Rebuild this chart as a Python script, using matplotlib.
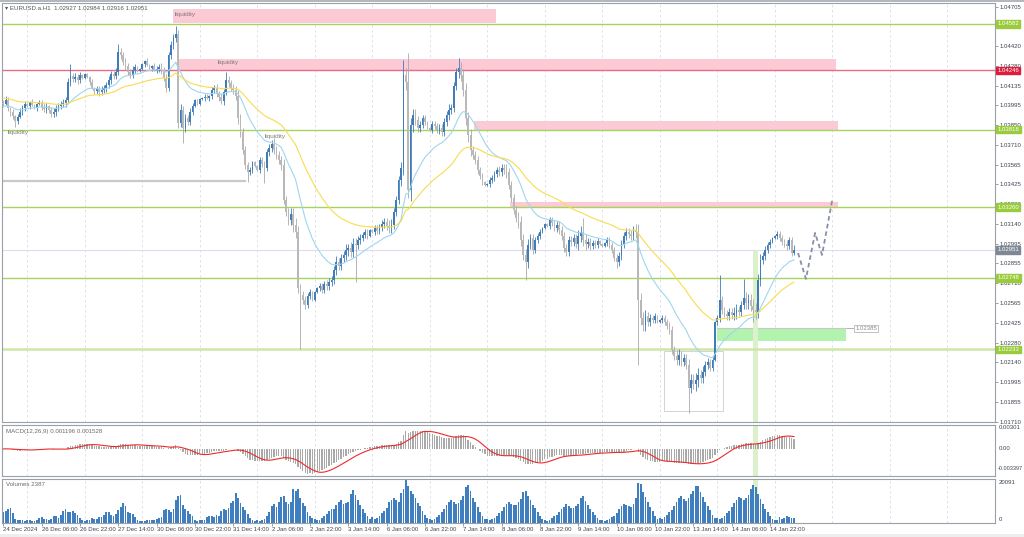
import numpy as np
import matplotlib
matplotlib.use("Agg")
import matplotlib.pyplot as plt
from matplotlib.patches import Rectangle
from matplotlib.transforms import blended_transform_factory as blend

plt.rcParams['font.family'] = ['Liberation Sans', 'DejaVu Sans']

# ---------------- data (EURUSD H1) ----------------
first_open = 1.04010
close = [
 1.04004, 1.04033, 1.03975, 1.03946, 1.03917, 1.03881, 1.03910, 1.03946, 1.03975, 1.04004,
 1.03990, 1.04019, 1.03997, 1.03975, 1.04004, 1.04011, 1.03982, 1.03968, 1.03990, 1.03961, 1.03932, 1.03946,
 1.03975, 1.03990, 1.04004, 1.04011, 1.04033, 1.04163, 1.04206, 1.04185, 1.04199, 1.04177, 1.04213, 1.04192,
 1.04221, 1.04199, 1.04163, 1.04120, 1.04098, 1.04112, 1.04091, 1.04105, 1.04120, 1.04141, 1.04177, 1.04221,
 1.04206, 1.04235, 1.04380, 1.04358, 1.04307, 1.04278, 1.04235, 1.04213, 1.04250, 1.04271, 1.04242, 1.04257,
 1.04293, 1.04315, 1.04286, 1.04264, 1.04278, 1.04250, 1.04257, 1.04271, 1.04250, 1.04192, 1.04120, 1.04358,
 1.04430, 1.04481, 1.04510, 1.03867, 1.03961, 1.03831, 1.03903, 1.03874, 1.03946, 1.03990, 1.04033, 1.04004,
 1.04040, 1.04047, 1.04055, 1.04047, 1.04062, 1.04105, 1.04120, 1.04076, 1.04055, 1.04026, 1.04091, 1.04177,
 1.04156, 1.04120, 1.04105, 1.04062, 1.03903, 1.03802, 1.03672, 1.03564, 1.03513, 1.03528, 1.03585, 1.03556,
 1.03528, 1.03600, 1.03571, 1.03542, 1.03658, 1.03686, 1.03715, 1.03672, 1.03636, 1.03600, 1.03564, 1.03311,
 1.03224, 1.03167, 1.03210, 1.03130, 1.03080, 1.02676, 1.02625, 1.02589, 1.02553, 1.02618, 1.02647, 1.02589,
 1.02647, 1.02676, 1.02690, 1.02661, 1.02705, 1.02690, 1.02719, 1.02733, 1.02806, 1.02863, 1.02834, 1.02892,
 1.02914, 1.02950, 1.02964, 1.02936, 1.02993, 1.02986, 1.03022, 1.03037, 1.03058, 1.03080, 1.03051, 1.03094,
 1.03080, 1.03109, 1.03087, 1.03116, 1.03138, 1.03152, 1.03123, 1.03109, 1.03130, 1.03224, 1.03311, 1.03455,
 1.03542, 1.04213, 1.04163, 1.03383, 1.03852, 1.03925, 1.03889, 1.03831, 1.03852, 1.03903, 1.03874, 1.03831,
 1.03816, 1.03860, 1.03845, 1.03816, 1.03831, 1.03802, 1.03874, 1.03925, 1.03961, 1.03975, 1.04134, 1.04235,
 1.04264, 1.04213, 1.04105, 1.03903, 1.03780, 1.03672, 1.03636, 1.03600, 1.03528, 1.03484, 1.03441, 1.03419,
 1.03427, 1.03455, 1.03470, 1.03499, 1.03528, 1.03513, 1.03542, 1.03528, 1.03513, 1.03419, 1.03325, 1.03239,
 1.03181, 1.03152, 1.03022, 1.02914, 1.02863, 1.02986, 1.03037, 1.02950, 1.03022, 1.03051, 1.03080, 1.03109,
 1.03138, 1.03123, 1.03167, 1.03145, 1.03109, 1.03130, 1.03094, 1.03051, 1.02964, 1.02936, 1.03022, 1.03008,
 1.03037, 1.02993, 1.03051, 1.03080, 1.03022, 1.02993, 1.03008, 1.02979, 1.03001, 1.02986, 1.03015, 1.02993,
 1.02979, 1.03001, 1.03022, 1.02986, 1.02950, 1.02892, 1.02863, 1.02907, 1.02993, 1.03051, 1.03080, 1.03065,
 1.03051, 1.03094, 1.03080, 1.02589, 1.02459, 1.02408, 1.02473, 1.02430, 1.02459, 1.02445, 1.02473, 1.02430,
 1.02445, 1.02459, 1.02430, 1.02401, 1.02372, 1.02228, 1.02185, 1.02156, 1.02192, 1.02141, 1.02170, 1.02120,
 1.01954, 1.02011, 1.01983, 1.02011, 1.02047, 1.02026, 1.02069, 1.02120, 1.02141, 1.02098, 1.02156, 1.02430,
 1.02459, 1.02589, 1.02517, 1.02488, 1.02473, 1.02502, 1.02481, 1.02495, 1.02517, 1.02502, 1.02553, 1.02603,
 1.02567, 1.02589, 1.02546, 1.02517, 1.02502, 1.02733, 1.02878, 1.02907, 1.02950, 1.02986, 1.03008, 1.03037,
 1.03051, 1.03065, 1.03037, 1.03008, 1.02993, 1.02979, 1.03022, 1.02927, 1.02951,
]
upper_wick_pips = [
 2,3,2,1,2,1,2,3,2,2,
 1,1,2,1,1,2,2,3,2,1,2,3,2,2,2,3,2,3,9,2,3,2,2,1,
 1,1,1,2,1,2,2,3,2,2,3,2,2,3,6,3,2,3,2,2,3,2,1,1,
 1,1,2,1,1,2,2,2,3,2,3,2,3,3,6,3,4,3,3,2,3,2,1,1,
 1,1,2,2,1,2,2,3,2,3,2,6,3,2,3,3,4,3,3,3,2,2,1,1,
 1,2,2,2,2,3,3,4,3,3,3,4,3,3,4,4,5,4,3,3,3,2,2,1,
 1,1,2,2,2,3,3,3,3,4,3,3,3,4,3,4,4,4,3,3,2,2,2,1,
 1,2,2,2,3,3,3,4,4,3,3,3,4,11,5,21,5,4,4,3,3,2,2,1,
 1,2,2,2,3,3,3,3,4,3,3,3,7,4,4,5,4,4,3,3,3,2,2,1,
 1,2,2,2,2,3,3,3,4,3,3,3,3,4,4,4,4,4,3,3,2,2,2,1,
 1,1,2,2,2,3,3,3,3,3,3,3,3,3,4,4,10,4,3,3,2,2,2,1,
 1,1,2,2,2,2,3,3,3,3,3,3,3,3,4,6,5,4,4,3,3,2,2,1,
 1,2,2,2,3,3,3,4,4,3,3,3,4,4,4,5,5,4,4,3,3,2,2,1,
 2,18,3,2,3,3,3,4,4,3,3,14,4,4,4,5,5,4,4,3,3,2,2,1,
 1,2,2,2,2,3,2,2,3.3,
]
lower_wick_pips = [
 2,1,2,3,2,4,2,1,2,2,
 1,2,1,1,2,1,2,2,3,2,2,2,3,2,2,2,3,2,3,2,2,3,2,1,
 1,1,2,1,2,2,3,2,2,3,2,3,2,2,2,3,2,3,2,2,2,2,1,1,
 1,2,1,1,2,1,2,2,3,2,3,2,3,3,3,4,3,11,3,2,2,2,1,1,
 1,1,2,1,2,2,2,2,3,2,3,2,3,2,3,3,4,4,3,3,7,2,2,1,
 1,2,2,11,2,3,3,3,3,3,4,3,3,4,4,5,4,4,39,3,3,2,2,1,
 1,1,2,2,2,3,3,3,3,4,3,3,3,4,4,4,4,27,3,3,2,2,2,1,
 1,2,2,2,3,3,3,4,4,3,3,3,4,5,6,6,8,5,4,3,3,2,2,1,
 1,2,2,2,3,3,3,3,4,3,3,3,4,4,4,5,5,4,3,3,3,2,2,1,
 1,2,2,2,2,3,3,3,4,3,3,3,3,4,4,4,13,4,3,3,2,2,2,1,
 1,1,2,2,2,3,3,3,3,3,3,3,3,3,4,4,4,4,3,3,2,2,2,1,
 1,1,2,2,2,2,4,3,3,3,3,3,3,3,4,47,5,4,4,3,3,2,2,1,
 1,2,2,2,3,3,3,4,4,3,3,3,18,4,4,5,5,4,4,3,3,2,2,1,
 2,3,3,2,3,3,3,4,4,3,3,3,4,4,4,9,5,4,4,3,3,2,2,1,
 1,2,2,2,2,3,2,2,1.1,
]
volume = [
 5000, 5500, 6500, 6800, 4500, 2000, 1200, 1500, 1300, 900,
 1200, 1500, 900, 1000, 1300, 2200, 2600, 2000, 1800, 1500, 2000, 3200, 3000, 2400, 3800, 5600, 6500, 5200, 4800, 5600, 4600, 3500, 2400, 1500,
 800, 1200, 1500, 2200, 1800, 1700, 2600, 2800, 3500, 4800, 5200, 3600, 3400, 4200, 5800, 7400, 9000, 7600, 5200, 4400, 3900, 2800, 1400, 900,
 700, 1100, 1500, 1300, 1400, 1200, 1900, 2200, 2600, 6000, 6200, 6000, 5200, 6400, 10500, 12500, 12800, 8400, 6200, 5600, 4200, 3400, 1500, 1000,
 1200, 1500, 1300, 2600, 3000, 3200, 2700, 3500, 3300, 5400, 6200, 6100, 6800, 9200, 10200, 13500, 11400, 9000, 7400, 5800, 4200, 2400, 1300, 900,
 1500, 1100, 1400, 2000, 3300, 4800, 7800, 8600, 7400, 9600, 11800, 12300, 9400, 8800, 9500, 15300, 14800, 15500, 11400, 9200, 7600, 5200, 3400, 2200,
 1800, 1400, 1500, 2200, 3000, 4200, 5600, 6400, 6200, 8400, 9600, 10400, 8600, 9200, 9600, 13400, 15200, 12600, 10400, 8000, 6400, 4600, 3200, 1600,
 2600, 1800, 2400, 3200, 4600, 5600, 6800, 9800, 10400, 11200, 10600, 9800, 13600, 15600, 20091, 16800, 14400, 13200, 11600, 9200, 7600, 5400, 3800, 2200,
 1600, 1400, 2000, 2600, 3600, 4800, 6400, 8200, 9400, 10600, 9800, 8600, 9200, 10400, 12200, 16400, 17200, 14400, 11600, 9400, 7200, 5200, 3200, 1800,
 1600, 1200, 1800, 2400, 3400, 4600, 5400, 7400, 8600, 9800, 8800, 8000, 8400, 9600, 11000, 14200, 14800, 12400, 10400, 8400, 6800, 5200, 3000, 1600,
 1200, 1000, 1400, 2200, 3000, 3800, 4800, 6400, 7400, 8600, 7800, 7000, 6800, 7600, 8800, 11600, 12400, 10000, 8000, 6400, 5200, 3600, 2400, 1400,
 1200, 1000, 1400, 2000, 2800, 3400, 4600, 6600, 7800, 8800, 8200, 7600, 7400, 8600, 11400, 18400, 17600, 14000, 12000, 9600, 7400, 5400, 3400, 2000,
 2400, 2000, 2800, 3600, 4800, 6000, 7600, 9400, 11200, 12400, 11000, 10200, 11400, 13200, 14800, 16800, 17000, 14000, 11800, 9800, 7600, 5800, 3600, 2200,
 2200, 1800, 2400, 3200, 4400, 5600, 7200, 9000, 10400, 12000, 11400, 10400, 11600, 12800, 15400, 17400, 16600, 13400, 11000, 8800, 6600, 4800, 3000, 1800,
 1400, 1200, 2800, 1800, 2200, 3400, 2800, 2400, 2387,
]
date_labels = ["24 Dec 2024", "26 Dec 06:00", "26 Dec 22:00", "27 Dec 14:00", "30 Dec 06:00",
               "30 Dec 22:00", "31 Dec 14:00", "2 Jan 06:00", "2 Jan 22:00", "3 Jan 14:00",
               "6 Jan 06:00", "6 Jan 22:00", "7 Jan 14:00", "8 Jan 06:00", "8 Jan 22:00",
               "9 Jan 14:00", "10 Jan 06:00", "10 Jan 22:00", "13 Jan 14:00", "14 Jan 06:00",
               "14 Jan 22:00"]
day_start_bars = [10, 34, 58, 82, 106, 130, 154, 178, 202, 226, 250, 274, 298, 322, 346, 370, 394]
price_ticks = [1.04705, 1.04563, 1.04420, 1.04280, 1.04135, 1.03995, 1.03850, 1.03710, 1.03565,
               1.03425, 1.03280, 1.03140, 1.02995, 1.02855, 1.02710, 1.02565, 1.02425, 1.02280,
               1.02140, 1.01995, 1.01855, 1.01710]
green_levels = [1.04582, 1.03818, 1.03260, 1.02748, 1.02233]
red_level = 1.04246
bid_price = 1.02951
old_level = 1.03448            # grey segment on the left
old_level_end_bar = 101
# liquidity zones: (bar_from, bar_to, price_low, price_high)
pink_zones = [(70.8, 205.6, 1.04589, 1.04690), (72.9, 347.5, 1.04250, 1.04329),
              (196.4, 348.4, 1.03817, 1.03881), (211.5, 348.4, 1.03253, 1.03297)]
green_zone = (297.9, 351.7, 1.02293, 1.02385)
grey_box = (275.8, 300.4, 1.01788, 1.02221)
band_bars = (312.9, 315.0)
band_top = 1.0295
liq_texts = [(71.6, 1.04647), (89.6, 1.04300), (2.0, 1.03800), (109.2, 1.03772)]
proj_bars = [331.7, 335.0, 338.8, 341.7, 345.9]
proj_prices = [1.02928, 1.02741, 1.03073, 1.02914, 1.03304]
macd_hi, macd_lo = 0.00301, -0.003397
vol_max = 20091

# ---------------- derived series ----------------
c = np.array(close)
n = len(c)
x = np.arange(n)
o = np.concatenate([[first_open], c[:-1]])
hi = np.maximum(o, c) + np.array(upper_wick_pips) * 1e-4
lo = np.minimum(o, c) - np.array(lower_wick_pips) * 1e-4
vol = np.array(volume, dtype=float)

def ema(v, period, seed):
    a = 2.0 / (period + 1)
    out = np.empty(len(v)); p = seed
    for i, val in enumerate(v):
        p = p + a * (val - p); out[i] = p
    return out

ma_fast = ema(c, 20, 1.03983)
ma_slow = ema(c, 50, 1.04047)
macd = ema(c, 12, 1.0400) - ema(c, 26, 1.0400)
sig = np.convolve(macd, np.ones(9) / 9, mode='full')[:n]
sig[:8] = [macd[:i + 1].mean() for i in range(8)]

# ---------------- figure ----------------
W, H = 1024, 537
fig = plt.figure(figsize=(W / 100, H / 100), dpi=100)
fig.patch.set_facecolor('white')

def box(x0, y0, x1, y1):
    return [x0 / W, 1 - y1 / H, (x1 - x0) / W, (y1 - y0) / H]

ax = fig.add_axes(box(2, 3, 995, 422))
axm = fig.add_axes(box(2, 425, 995, 476), sharex=ax)
axv = fig.add_axes(box(2, 479, 995, 523), sharex=ax)

XL = (-0.54, 413.9)
ax.set_xlim(*XL)
ax.set_ylim(1.01708, 1.04733)
axm.set_ylim(macd_lo, macd_hi)
axv.set_ylim(0, vol_max)

spine_c = '#9aa0a8'
for a in (ax, axm, axv):
    for s in a.spines.values():
        s.set_color(spine_c); s.set_linewidth(0.8)
    a.tick_params(axis='x', bottom=False, labelbottom=False)
    for b in day_start_bars:
        a.axvline(b, color='#d9dce8', lw=0.6, ls=(0, (3, 3)), zorder=0)
    a.set_facecolor('white')

# right price axis
ax.yaxis.tick_right()
ax.set_yticks(price_ticks)
ax.set_yticklabels([f"{p:.5f}" for p in price_ticks])
ax.tick_params(axis='y', length=2, width=0.5, color='#777777', labelsize=4.3,
               pad=1.5, labelcolor='#3c4450')
for a in (axm, axv):
    a.set_yticks([])

# zones
for (b0, b1, p0, p1) in pink_zones:
    ax.add_patch(Rectangle((b0, p0), b1 - b0, p1 - p0, facecolor='#fccad4',
                           edgecolor='none', zorder=1))
g0, g1, gp0, gp1 = green_zone
ax.add_patch(Rectangle((g0, gp0), g1 - g0, gp1 - gp0, facecolor='#b2f3ae',
                       edgecolor='none', zorder=1))
ax.plot([g0, g1], [gp1, gp1], color='#c8c8c8', lw=0.8, zorder=1)
gb0, gb1, gbp0, gbp1 = grey_box
ax.add_patch(Rectangle((gb0, gbp0), gb1 - gb0, gbp1 - gbp0, facecolor='none',
                       edgecolor='#d4d4d4', lw=0.7, zorder=1))
ylo = ax.get_ylim()[0]
ax.add_patch(Rectangle((band_bars[0], ylo), band_bars[1] - band_bars[0], band_top - ylo,
                       facecolor='#dcf0cc', edgecolor='none', zorder=1))
for a in (axm, axv):
    a.axvspan(band_bars[0], band_bars[1], color='#dcf0cc', lw=0, zorder=0.5)

# levels
ax.axhline(bid_price, color='#dedcf2', lw=0.8, zorder=1)
for p in green_levels[:-1]:
    ax.axhline(p, color='#a6d25e', lw=1.0, zorder=1.5)
ax.axhline(green_levels[-1], color='#cfe6a6', lw=1.8, zorder=1.5)
ax.axhline(red_level, color='#e76c86', lw=1.0, zorder=1.5)
ax.plot([XL[0], old_level_end_bar], [old_level, old_level], color='#c9c9c9', lw=1.6, zorder=1.5)

# candles
bull = c >= o
body_h = np.where(np.abs(c - o) < 1e-5, 1.2e-5, c - o)
ax.vlines(x[bull], lo[bull], hi[bull], color='#3f7cb8', lw=0.6, zorder=3)
ax.vlines(x[~bull], lo[~bull], hi[~bull], color='#a8a8a8', lw=0.6, zorder=3)
ax.bar(x[bull], body_h[bull], bottom=o[bull], width=0.72, color='#3f7cb8',
       edgecolor='none', zorder=3.5)
ax.bar(x[~bull], body_h[~bull], bottom=o[~bull], width=0.72, color='#b9b9b9',
       edgecolor='none', zorder=3.5)

# moving averages
ax.plot(x, ma_fast, color='#9fd6f0', lw=0.8, zorder=4)
ax.plot(x, ma_slow, color='#f8dc50', lw=0.8, zorder=4)

# projection
ax.plot(proj_bars, proj_prices, color='#8790a6', lw=1.3, ls=(0, (2.5, 1.8)), zorder=4)

# texts
for (bx, py) in liq_texts:
    ax.text(bx, py, "liquidity", fontsize=4.6, color='#7c7c7c', ha='left', va='center', zorder=5)

tr = blend(ax.transAxes, ax.transData)
def tag(price, text, fc, tc='white'):
    ax.text(1.0025, price, text, transform=tr, fontsize=4.3, color=tc, ha='left', va='center',
            bbox=dict(facecolor=fc, edgecolor=fc, pad=0.9), clip_on=False, zorder=10)
for p in green_levels:
    tag(p, f"{p:.5f}", '#9acb3c')
tag(red_level, f"{red_level:.5f}", '#dc1e3c')
tag(bid_price, f"{bid_price:.5f}", '#7d8894')

ax.plot([352.3, 354.8], [gp1, gp1], color='#b0b0b0', lw=0.7, zorder=5)
ax.text(355.6, gp1, f"{gp1:.5f}", fontsize=4.3, color='#8a8a8a', ha='left', va='center',
        bbox=dict(facecolor='white', edgecolor='#b8b8b8', pad=0.8, lw=0.6), zorder=6)

# MACD
axm.bar(x, macd, width=0.55, color='#a9a9a9', edgecolor='none', zorder=2)
axm.plot(x, sig, color='#ee2a2a', lw=0.8, zorder=3)
trm = blend(axm.transAxes, axm.transData)
axm.text(1.004, macd_hi, "0.00301", transform=trm, fontsize=4.3, color='#3c4450', va='top', ha='left', clip_on=False)
axm.text(1.004, 0.0, "0.00", transform=trm, fontsize=4.3, color='#3c4450', va='center', ha='left', clip_on=False)
axm.text(1.003, macd_lo * 0.72, "-0.003397", transform=trm, fontsize=4.0, color='#3c4450', va='center', ha='left', clip_on=False)
axm.text(0.004, 0.93, "MACD(12,26,9) 0.001196 0.001528", transform=axm.transAxes, fontsize=4.4,
         color='#6a6a6a', va='top', ha='left')

# Volumes
axv.bar(x, vol, width=0.75, color='#3f7fbf', edgecolor='none', zorder=2)
trv = blend(axv.transAxes, axv.transData)
axv.text(1.004, vol_max * 0.93, "20091", transform=trv, fontsize=4.3, color='#3c4450', va='center', ha='left', clip_on=False)
axv.text(1.004, vol_max * 0.08, "0", transform=trv, fontsize=4.3, color='#3c4450', va='center', ha='left', clip_on=False)
axv.text(0.004, 0.93, "Volumes 2387", transform=axv.transAxes, fontsize=4.4,
         color='#6a6a6a', va='top', ha='left')

# time axis
axv.tick_params(axis='x', bottom=True, labelbottom=True, length=2, width=0.5,
                color='#777777', labelsize=4.3, pad=1.2, labelcolor='#3c4450')
tpos = [i * 16 for i in range(len(date_labels))]
axv.set_xticks(tpos)
axv.set_xticklabels(date_labels, ha='left')

# header
fig.text(5 / W, 1 - 8 / H, "\u25be EURUSD.a.H1  1.02927 1.02984 1.02916 1.02951",
         fontsize=4.4, color='#555555', va='center', ha='left')
fig.patches.append(Rectangle((0, 1 - 2 / H), 1, 2 / H, transform=fig.transFigure,
                             facecolor='#b4b8bc', edgecolor='none'))
fig.patches.append(Rectangle((0, 0), 1, 3 / H, transform=fig.transFigure,
                             facecolor='#eeeeee', edgecolor='none'))

fig.savefig("out.png", dpi=100, facecolor='white')
